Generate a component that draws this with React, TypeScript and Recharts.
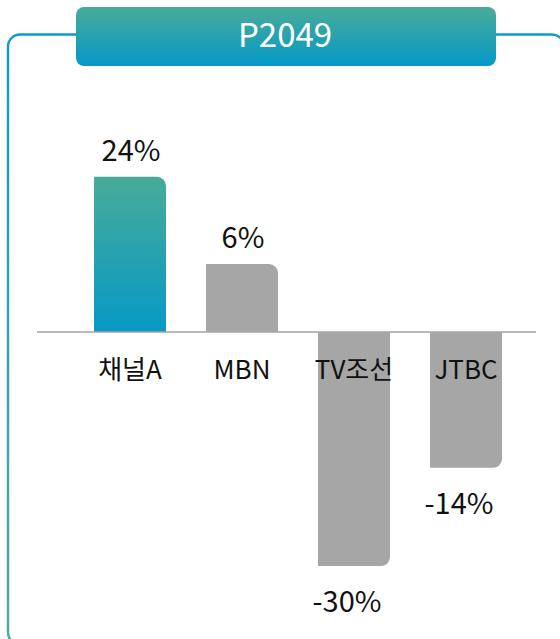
import React from "react";
import { BarChart, Bar, XAxis, YAxis, ReferenceLine, LabelList, Cell } from "recharts";

const title = "P2049";
const categories = ["채널A", "MBN", "TV조선", "JTBC"];
const percentValues = [24, 6, -30, -14];
// bar lengths as drawn in the picture (same units as 채널A's 24)
const barLengths = [24, 10.5, -36.2, -21];
const barColors = ["url(#gradA)", "#a6a6a6", "#a6a6a6", "#a6a6a6"];

const data = categories.map((name, i) => ({
  name,
  pct: percentValues[i],
  len: barLengths[i],
}));

const FONT = "'Noto Sans CJK KR', 'Noto Sans', sans-serif";

const BarShape = (props: any) => {
  const { x, y, width, height, fill, index } = props;
  const top = Math.min(y, y + height);
  const bottom = Math.max(y, y + height);
  const h = bottom - top;
  const r = Math.min(9, h, width / 2);
  const positive = barLengths[index] >= 0;
  const d = positive
    ? `M${x},${bottom} L${x},${top} L${x + width - r},${top} A${r},${r} 0 0 1 ${x + width},${top + r} L${x + width},${bottom} Z`
    : `M${x},${top} L${x + width},${top} L${x + width},${bottom - r} A${r},${r} 0 0 1 ${x + width - r},${bottom} L${x},${bottom} Z`;
  return <path d={d} fill={fill} />;
};

const PctLabel = (props: any) => {
  const { x, y, width, height, value, index } = props;
  const top = Math.min(y, y + height);
  const bottom = Math.max(y, y + height);
  const positive = barLengths[index] >= 0;
  const cy = positive ? top - 29 : bottom + 33;
  const dx = positive ? 1 : -7;
  return (
    <text
      x={x + width / 2 + dx}
      y={cy}
      textAnchor="middle"
      dominantBaseline="central"
      fontFamily={FONT}
      fontSize={29}
      fill="#111"
    >
      {`${value}%`}
    </text>
  );
};

const NameLabel = (props: any) => {
  const { x, y, width, height, value, index } = props;
  const top = Math.min(y, y + height);
  const bottom = Math.max(y, y + height);
  const positive = barLengths[index] >= 0;
  const zero = positive ? bottom : top;
  return (
    <text
      x={x + width / 2}
      y={zero + 35}
      textAnchor="middle"
      dominantBaseline="central"
      fontFamily={FONT}
      fontSize={26}
      fill="#111"
    >
      {value}
    </text>
  );
};

export default function App() {
  return (
    <div style={{ position: "absolute", left: 0, top: 0, width: 560, height: 639, overflow: "hidden", background: "#fff" }}>
      <svg width={560} height={639} style={{ position: "absolute", left: 0, top: 0 }}>
        <defs>
          <linearGradient id="gradA" x1="0" y1="0" x2="0" y2="1">
            <stop offset="0%" stopColor="#48ab99" />
            <stop offset="100%" stopColor="#0799c6" />
          </linearGradient>
          <linearGradient id="gradFrame" x1="0" y1="0" x2="0" y2="1">
            <stop offset="0%" stopColor="#0a9bc8" />
            <stop offset="100%" stopColor="#45ae9d" />
          </linearGradient>
        </defs>
        <rect x={8} y={34.5} width={556} height={610} rx={12} ry={12} fill="none" stroke="url(#gradFrame)" strokeWidth={2.4} />
      </svg>
      <div style={{ position: "absolute", left: 0, top: 0 }}>
        <BarChart
          width={560}
          height={639}
          data={data}
          margin={{ top: 138, right: 24, bottom: 16, left: 37 }}
          barSize={72}
        >
          <XAxis dataKey="name" hide padding={{ left: 37, right: 14 }} />
          <YAxis hide domain={[-45, 30]} type="number" allowDataOverflow />
          <ReferenceLine y={0} stroke="#a3a3a3" strokeWidth={1.5} />
          <Bar dataKey="len" shape={<BarShape />} isAnimationActive={false}>
            {data.map((d, i) => (
              <Cell key={d.name} fill={barColors[i]} />
            ))}
            <LabelList dataKey="pct" content={<PctLabel />} />
            <LabelList dataKey="name" content={<NameLabel />} />
          </Bar>
        </BarChart>
      </div>
      <div
        style={{
          position: "absolute",
          left: 76,
          top: 7,
          width: 420,
          height: 59,
          borderRadius: 8,
          background: "linear-gradient(to bottom, #48ab99, #0599c7)",
          color: "#fff",
          fontFamily: FONT,
          fontSize: 33,
          lineHeight: "59px",
          textAlign: "center",
        }}
      >
        <span style={{ position: "relative", top: -3, left: -1 }}>{title}</span>
      </div>
    </div>
  );
}
